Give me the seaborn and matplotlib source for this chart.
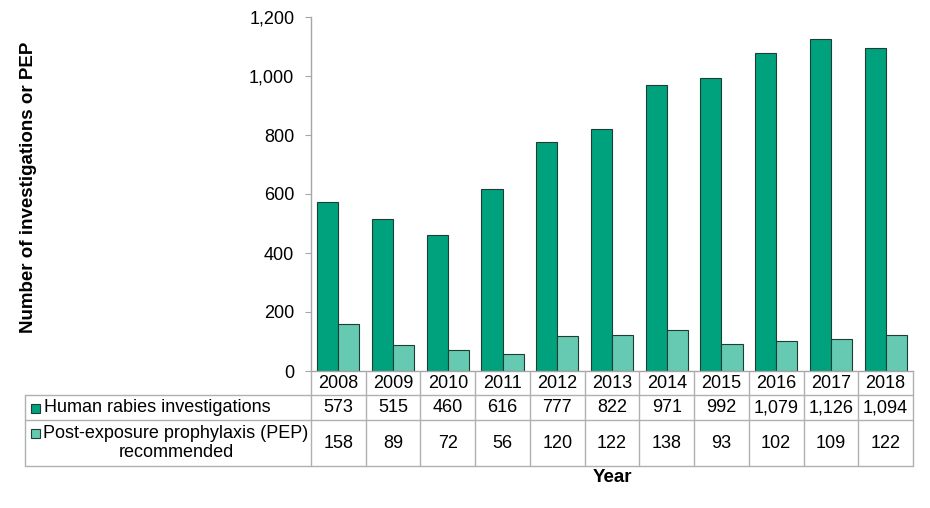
import pandas as pd
import matplotlib.pyplot as plt
import matplotlib.transforms as mtransforms
from matplotlib.patches import Rectangle
import seaborn as sns

years = ['2008', '2009', '2010', '2011', '2012', '2013', '2014', '2015', '2016', '2017', '2018']
investigations = [573, 515, 460, 616, 777, 822, 971, 992, 1079, 1126, 1094]
pep = [158, 89, 72, 56, 120, 122, 138, 93, 102, 109, 122]
series_names = ['Human rabies investigations', 'Post-exposure prophylaxis (PEP)\nrecommended']
colors = ['#00a27e', '#66c9b2']

sns.set_style('white')
plt.rcParams['font.family'] = ['Liberation Sans', 'DejaVu Sans']
plt.rcParams['text.color'] = 'black'
plt.rcParams['ytick.labelcolor'] = 'black'

data = pd.DataFrame({
    'Year': years * 2,
    'Count': investigations + pep,
    'Series': [series_names[0]] * len(years) + [series_names[1]] * len(years),
})

W, H = 930, 508
fs = 13
fig = plt.figure(figsize=(W / 100, H / 100), dpi=100)
ax_l, ax_r, ax_t, ax_b = 311, 913, 17, 371
ax = fig.add_axes([ax_l / W, 1 - ax_b / H, (ax_r - ax_l) / W, (ax_b - ax_t) / H])

sns.barplot(data=data, x='Year', y='Count', hue='Series', palette=colors, saturation=1,
            width=0.77, edgecolor='#1f3d33', linewidth=0.8, ax=ax, legend=False)

ax.set_ylim(0, 1200)
ax.set_xlim(-0.5, len(years) - 0.5)
ax.set_yticks(range(0, 1201, 200))
ax.set_yticklabels([f'{v:,}' for v in range(0, 1201, 200)], fontsize=fs)
ax.tick_params(axis='y', length=4, color='#a6a6a6', pad=8, left=True, labelcolor='black')
ax.tick_params(axis='x', length=0, labelbottom=False)
ax.set_xlabel('')
ax.set_ylabel('')
for s in ['top', 'right']:
    ax.spines[s].set_visible(False)
for s in ['left', 'bottom']:
    ax.spines[s].set_color('#a6a6a6')
    ax.spines[s].set_linewidth(1)

# data table under the axes
line_c = '#b0b0b0'
fy = lambda y: 1 - y / H
fx = lambda x: x / W
blend = mtransforms.blended_transform_factory(ax.transData, fig.transFigure)
row_y = [371, 395, 420, 466]
left_px = 25

for y in row_y[1:]:
    fig.add_artist(plt.Line2D([fx(left_px), fx(ax_r)], [fy(y), fy(y)], color=line_c, lw=1))
fig.add_artist(plt.Line2D([fx(left_px), fx(left_px)], [fy(row_y[1]), fy(row_y[3])], color=line_c, lw=1))
for i in range(len(years) + 1):
    fig.add_artist(plt.Line2D([i - 0.5, i - 0.5], [fy(row_y[0]), fy(row_y[3])],
                              color=line_c, lw=1, transform=blend))

for i, yr in enumerate(years):
    fig.text(i, fy(383), yr, transform=blend, ha='center', va='center', fontsize=fs)
    fig.text(i, fy(408), f'{investigations[i]:,}', transform=blend, ha='center', va='center', fontsize=fs)
    fig.text(i, fy(443), f'{pep[i]:,}', transform=blend, ha='center', va='center', fontsize=fs)

# row labels with legend keys
sq = 9
fig.add_artist(Rectangle((fx(31), fy(408) - sq / 2 / H), sq / W, sq / H,
                         facecolor=colors[0], edgecolor='#1f3d33', lw=0.8, transform=fig.transFigure))
fig.text(fx(44), fy(408), series_names[0], ha='left', va='center', fontsize=fs)
fig.add_artist(Rectangle((fx(31), fy(433) - sq / 2 / H), sq / W, sq / H,
                         facecolor=colors[1], edgecolor='#1f3d33', lw=0.8, transform=fig.transFigure))
fig.text(fx(176), fy(443), series_names[1], ha='center', va='center',
         multialignment='center', fontsize=fs, linespacing=1.2)

fig.text(fx((ax_l + ax_r) / 2), fy(478), 'Year', ha='center', va='center',
         fontsize=13.5, fontweight='bold')
fig.text(fx(29), fy(187), 'Number of investigations or PEP', rotation=90,
         ha='center', va='center', fontsize=13.5, fontweight='bold')

fig.savefig('out.png', dpi=100)
